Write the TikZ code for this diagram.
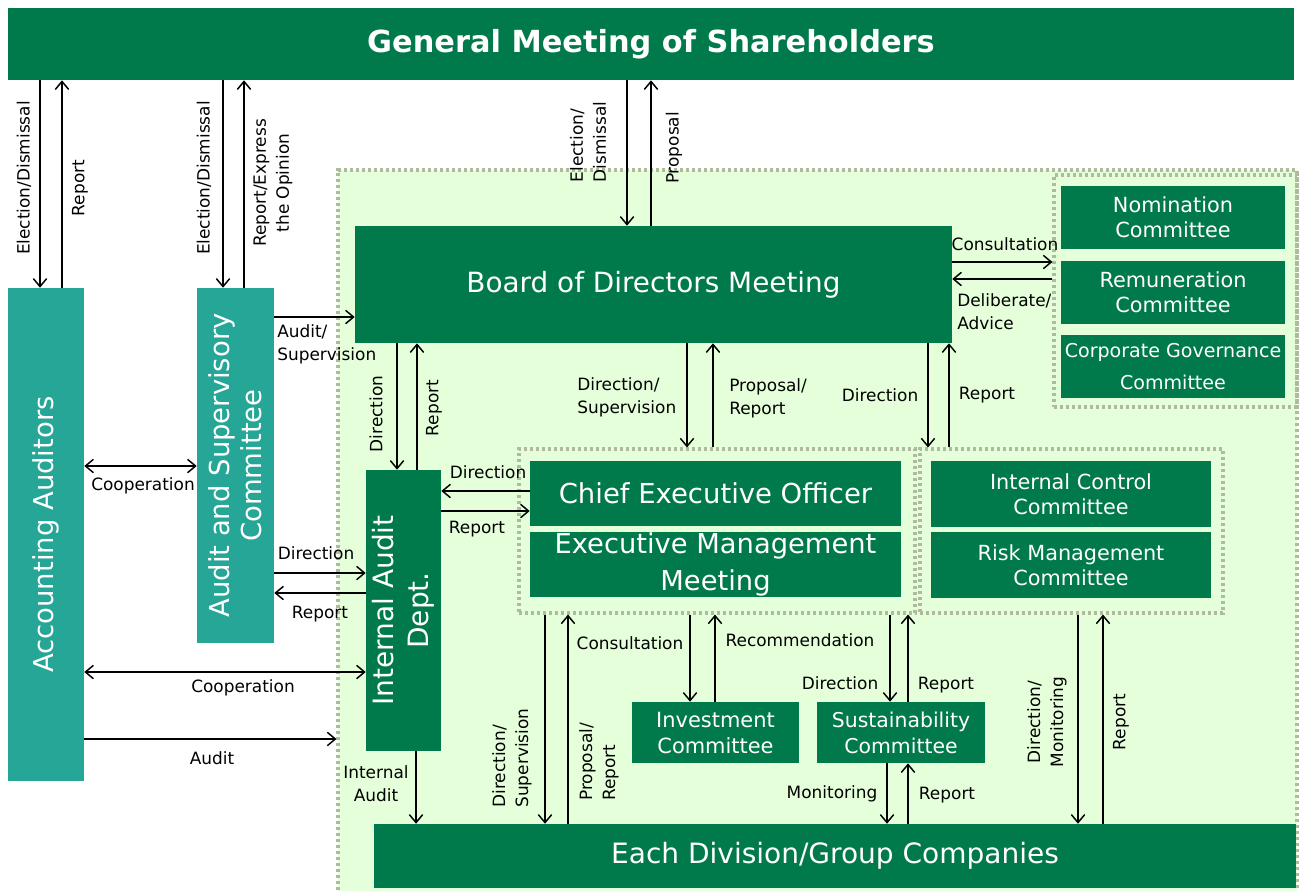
\documentclass[tikz,border=0pt]{standalone}
\usepackage{fontspec}
\setmainfont{DejaVu Sans}
\usetikzlibrary{arrows.meta}
\definecolor{dkgreen}{RGB}{0,122,75}
\definecolor{tealbox}{RGB}{38,166,150}
\definecolor{bgzone}{RGB}{229,255,218}
\definecolor{dotc}{RGB}{176,186,158}
\begin{document}
\begin{tikzpicture}[x=0.75pt,y=-0.75pt,
  sz/.style 2 args={minimum width={#1*0.75pt},minimum height={#2*0.75pt}},
  box/.style={fill=dkgreen,text=white,inner sep=0pt,align=center,font=\fontsize{15.6}{19}\selectfont},
  tbox/.style={fill=tealbox,text=white,inner sep=0pt,align=center,font=\fontsize{20.6}{24}\selectfont},
  grp/.style={draw=dotc,line width=2.3pt,dash pattern=on 2.3pt off 2.2pt,inner sep=0pt},
  arr/.style={-{Straight Barb[length=6pt,width=10pt]},line width=1.1pt},
  darr/.style={{Straight Barb[length=6pt,width=10pt]}-{Straight Barb[length=6pt,width=10pt]},line width=1.1pt},
  lbl/.style={inner sep=0pt,align=center,font=\fontsize{12.7}{17.25}\selectfont},
  lbll/.style={lbl,align=left,anchor=west},
  ]
\useasboundingbox (0,0) rectangle (1301,890);
\fill[white] (0,0) rectangle (1301,890);
% shaded zone and dotted groups
\node[grp,fill=bgzone,sz={959}{725}] (zone) at (817.5,532.5) {};
\node[grp,sz={243}{232}] (gov) at (1175.5,291) {};
\node[grp,sz={396}{164}] (ceog) at (717,531) {};
\node[grp,sz={303}{164}] (icg) at (1071.5,531) {};
% boxes
\node[fill=dkgreen,text=white,inner sep=0pt,sz={1286}{72},font=\bfseries\fontsize{22.8}{27}\selectfont] (gm) at (651,44) {General Meeting of Shareholders};
\node[tbox,rotate=90,sz={493}{76}] (aa) at (46,534.5) {Accounting Auditors};
\node[tbox,rotate=90,sz={355}{77}] (asc) at (235.5,465.5) {Audit and Supervisory\\Committee};
\node[box,sz={597}{117},font=\fontsize{20.9}{24}\selectfont] (bod) at (653.5,284.5) {Board of Directors Meeting};
\node[box,rotate=90,sz={281}{75},font=\fontsize{21}{26}\selectfont] (iad) at (403.5,610.5) {Internal Audit\\Dept.};
\node[box,sz={371}{65},font=\fontsize{20.6}{24}\selectfont] (ceo) at (715.5,493.5) {Chief Executive Officer};
\node[box,sz={371}{65},font=\fontsize{20.5}{28}\selectfont] (emm) at (715.5,564.5) {\raisebox{-3pt}{Executive Management}\\\raisebox{-3pt}{Meeting}};
\node[box,sz={280}{66}] (icc) at (1071,494) {Internal Control\\Committee};
\node[box,sz={280}{66}] (rmc) at (1071,565) {Risk Management\\Committee};
\node[box,sz={224}{63}] (nom) at (1173,217.5) {Nomination\\Committee};
\node[box,sz={224}{63}] (rem) at (1173,292.5) {Remuneration\\Committee};
\node[box,sz={224}{63},font=\fontsize{14.3}{24}\selectfont] (cgc) at (1173,366.5) {\raisebox{-2pt}{Corporate Governance}\\\raisebox{-2pt}{Committee}};
\node[box,sz={167}{61},font=\fontsize{15.7}{19.5}\selectfont] (inv) at (715.5,732.5) {Investment\\Committee};
\node[box,sz={168}{61},font=\fontsize{15.3}{19.5}\selectfont] (sus) at (901,732.5) {Sustainability\\Committee};
\node[box,sz={922}{64},font=\fontsize{21}{24}\selectfont] (edg) at (835,856) {Each Division/Group Companies};
% connectors
\draw[arr] (40,0 |- gm.south) -- (40,0 |- aa.east);
\draw[arr] (62,0 |- aa.east) -- (62,0 |- gm.south);
\draw[arr] (223,0 |- gm.south) -- (223,0 |- asc.east);
\draw[arr] (244,0 |- asc.east) -- (244,0 |- gm.south);
\draw[arr] (627,0 |- gm.south) -- (627,0 |- bod.north);
\draw[arr] (651,0 |- bod.north) -- (651,0 |- gm.south);
\draw[arr] (asc.south |- 0,317) -- (bod.west |- 0,317);
\draw[arr] (bod.east |- 0,262) -- (gov.west |- 0,262);
\draw[arr] (gov.west |- 0,279) -- (bod.east |- 0,279);
\draw[arr] (397,0 |- bod.south) -- (397,0 |- iad.east);
\draw[arr] (417,0 |- iad.east) -- (417,0 |- bod.south);
\draw[arr] (687,0 |- bod.south) -- (687,0 |- ceog.north);
\draw[arr] (713,0 |- ceog.north) -- (713,0 |- bod.south);
\draw[arr] (928,0 |- bod.south) -- (928,0 |- icg.north);
\draw[arr] (949,0 |- icg.north) -- (949,0 |- bod.south);
\draw[darr] (aa.south |- 0,466) -- (asc.north |- 0,466);
\draw[arr] (asc.south |- 0,573) -- (iad.north |- 0,573);
\draw[arr] (iad.north |- 0,593) -- (asc.south |- 0,593);
\draw[arr] (ceo.west |- 0,491) -- (iad.south |- 0,491);
\draw[arr] (iad.south |- 0,511) -- (ceo.west |- 0,511);
\draw[darr] (aa.south |- 0,672) -- (iad.north |- 0,672);
\draw[arr] (aa.south |- 0,739) -- (zone.west |- 0,739);
\draw[arr] (416,0 |- iad.west) -- (416,0 |- edg.north);
\draw[arr] (545,0 |- ceog.south) -- (545,0 |- edg.north);
\draw[arr] (568,0 |- edg.north) -- (568,0 |- ceog.south);
\draw[arr] (690,0 |- ceog.south) -- (690,0 |- inv.north);
\draw[arr] (715,0 |- inv.north) -- (715,0 |- ceog.south);
\draw[arr] (890,0 |- ceog.south) -- (890,0 |- sus.north);
\draw[arr] (908,0 |- sus.north) -- (908,0 |- ceog.south);
\draw[arr] (887,0 |- sus.south) -- (887,0 |- edg.north);
\draw[arr] (908,0 |- edg.north) -- (908,0 |- sus.south);
\draw[arr] (1078,0 |- icg.south) -- (1078,0 |- edg.north);
\draw[arr] (1103,0 |- edg.north) -- (1103,0 |- icg.south);
% labels
\node[lbl,rotate=90] (l1) at (24,178) {Election/Dismissal};
\node[lbl,rotate=90] (l2) at (80,188) {Report};
\node[lbl,rotate=90] (l3) at (204,178) {Election/Dismissal};
\node[lbl,rotate=90] (l4) at (273,183) {Report/Express\\the Opinion};
\node[lbl,rotate=90,align=left] (l5) at (588,142) {Election/\\Dismissal};
\node[lbl,rotate=90] (l6) at (674,148) {Proposal};
\node[lbll] (l7) at (277,344) {Audit/\\Supervision};
\node[lbl] (l8) at (1005,244) {Consultation};
\node[lbll] (l9) at (957,312) {Deliberate/\\Advice};
\node[lbl,rotate=90] (l10) at (376,414) {Direction};
\node[lbl,rotate=90] (l11) at (434,408) {Report};
\node[lbll] (l12) at (577,397) {Direction/\\Supervision};
\node[lbll] (l13) at (729,398) {Proposal/\\Report};
\node[lbl] (l14) at (880,395) {Direction};
\node[lbl] (l15) at (987,395) {Report};
\node[lbl] (l16) at (143,486) {Cooperation};
\node[lbl] (l17) at (316,553) {Direction};
\node[lbl] (l18) at (320,614) {Report};
\node[lbl] (l19) at (488,472) {Direction};
\node[lbl] (l20) at (477,529) {Report};
\node[lbl] (l21) at (243,688) {Cooperation};
\node[lbl] (l22) at (212,758) {Audit};
\node[lbl] (l23) at (376,784) {Internal\\Audit};
\node[lbl,rotate=90,align=left] (l24) at (512,758) {Direction/\\Supervision};
\node[lbl,rotate=90,align=left] (l25) at (599,762) {Proposal/\\Report};
\node[lbl] (l26) at (630,643) {Consultation};
\node[lbl] (l27) at (800,640) {Recommendation};
\node[lbl] (l28) at (840,683) {Direction};
\node[lbl] (l29) at (946,685) {Report};
\node[lbl] (l30) at (832,794) {Monitoring};
\node[lbl] (l31) at (947,795) {Report};
\node[lbl,rotate=90] (l32) at (1047,722) {Direction/\\Monitoring};
\node[lbl,rotate=90] (l33) at (1121,722) {Report};
\end{tikzpicture}
\end{document}
